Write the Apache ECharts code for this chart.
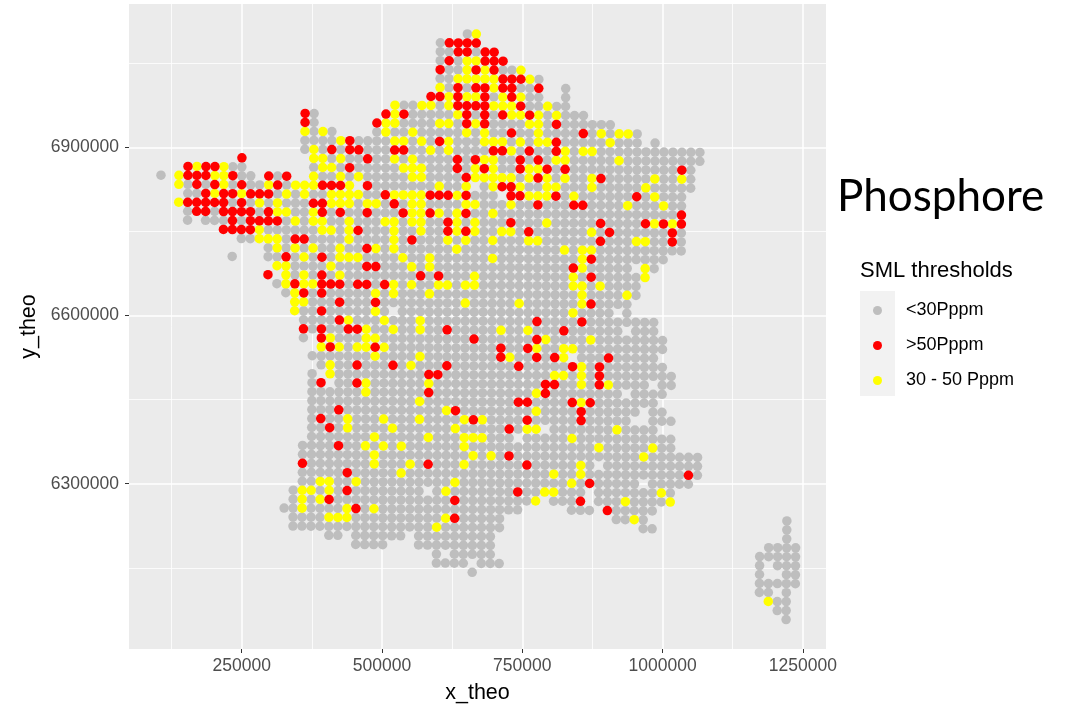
<!DOCTYPE html>
<html>
<head>
<meta charset="utf-8">
<style>
  html, body { margin: 0; padding: 0; background: #fff; }
  #chart { width: 1073px; height: 704px; }
</style>
<script src="https://cdn.jsdelivr.net/npm/echarts@6/dist/echarts.min.js"></script>
</head>
<body>
<div id="chart"></div>
<script>
// x_theo of each grid column, y_theo of each grid row (16 km sampling grid)
const colX = [106200,122200,138200,154200,170200,186200,202200,218200,234200,250200,266200,282200,
  298200,314200,330200,346200,362200,378200,394200,410200,426200,442200,458200,474200,
  490200,506200,522200,538200,554200,570200,586200,602200,618200,634200,650200,666200,
  682200,698200,714200,730200,746200,762200,778200,794200,810200,826200,842200,858200,
  874200,890200,906200,922200,938200,954200,970200,986200,1002200,1018200,1034200,1050200,
  1066200,1082200,1098200,1114200,1130200,1146200,1162200,1178200,1194200,1210200,1226200,1242200]
const rowY = [7102000,7086000,7070000,7054000,7038000,7022000,7006000,6990000,6974000,6958000,6942000,
  6926000,6910000,6894000,6878000,6862000,6846000,6830000,6814000,6798000,6782000,6766000,
  6750000,6734000,6718000,6702000,6686000,6670000,6654000,6638000,6622000,6606000,6590000,
  6574000,6558000,6542000,6526000,6510000,6494000,6478000,6462000,6446000,6430000,6414000,
  6398000,6382000,6366000,6350000,6334000,6318000,6302000,6286000,6270000,6254000,6238000,
  6222000,6206000,6190000,6174000,6158000,6142000,6126000,6110000,6094000,6078000,6062000]
// the grid is slightly turned against the axes
const gridTurn = 0.0077
const turnX = 666200
const turnY = 6850600

// occupied columns of each row
const rowSpans = ['34-35','31-35','31-37','31-38','31-40','31-42','31-42 45','30-42 45','26-45',
  '16-17 25-47','16-17 24-50','16-19 24-53','16-53 55','16-60','9 17-60','3-9 17-59',
  '0 2-10 12-14 17-59','2-21 23-34 36-59','3-37 39-58','2-58','3-58','3 5-58','7-58','9-58','12-58',
  '8 12-56','13-52 54-55','12 14-54','13-53','14-53','15-52','15-25 27-50 52','16-55','16-51 53-55',
  '16 18-56','18-56','17-45 47-55','18-56','17 19-57','17-18 20-54 56-57','17-51 53-56','17-55',
  '17-53 55-56','17-52 55-57','17-42 44-55','17-39 41-57','16-57','16-60','16-48 50-60','16-60',
  '16-53 55-59','15-29 31-47 49-57','15-42 44-47 49-57','14-40 46-48 50-55','15-38 51-54 70',
  '15-38 54-55 70','19-20 22-27 29-37 70','22-25 29-37 68-71','31 33-37 67-71','31-34 36-38 67 69-71',
  '35 67 70-71','67-71','67-68 70','68-70','69-70','70']
// columns of each row above 50 Pppm
const redCols = ['','32 33 34 35','33 34 36 37','32 36 37 38','31 35 37','38 39 40','33 35 36 38 39 42',
  '30 31 33 36 39','33 34 35 36 40','16 25 27 34 36 38 41','16 24 34 36 44','39 47','21 31 44',
  '19 21 22 26 27 37 38 41 44','9 23 33 35 40 42','3 5 6 21 33 36 40 43 45 58','3 4 5 8 12 14 34 42 49',
  '4 6 9 13 18 19 20 23 38 39','5 7 8 10 11 12 25 30 31 32 34 39 40 44 53','3 4 5 6 7 9 17 18 26 42 46 47',
  '4 5 7 8 9 10 12 18 20 23 27 30 34 58','8 10 11 12 13 32 39 49 54 56 58','7 8 9 10 22 32 34 41 50 57',
  '15 16 28 49 57','23','14 18 48','23 24 46','12 18 29 31 48','15 18 19 20 22 23 25','16 18','20 24 48','18',
  '20 42 47','16 18 21 22 32 45','18 35 42','19 24 38 41','38 42 44 50','22 26 32 40 46 49','30 31 49',
  '18 22 43 44 49','30 43','40 41 46 48','20 33 47','18 35 41 47','19 39','','20','39','16 30 41','21 59',
  '48','21 40','19 33 47','22 50','33','','','','','','','','','','','']
// columns of each row between 30 and 50 Pppm
const yellowCols = ['35','','','34 35','34 36 40','33 34 35 36 37 41','31 37','32 34 35 38 40',
  '26 29 30 32 37 38 39 43','26 33 39 40 42 44','25 26 31 32 35 41 42','16 18 25 28 34 36 42 49 51 52',
  '20 26 27 29 32 36 37 38 40 42 43 50','17 30 32 39 45 47 48','17 18 20 26 28 36 37 44 45 51',
  '4 7 18 19 27 28 29 35 37 41 42','2 6 7 17 20 22 28 29 35 36 37 38 39 41 43 45 48 55 58',
  '2 7 12 15 16 17 21 31 34 37 40 43 44 48 54','6 9 14 16 19 20 21 22 26 27 28 29 33 41 42 43 46 55',
  '2 11 13 19 20 21 23 24 28 29 34 35 39 52 56','13 14 17 28 29 31 33 37',
  '15 17 18 21 25 26 28 29 33 35 43 55 57','11 18 19 21 26 29 33 35 38 39 48',
  '11 12 13 21 26 32 34 37 41 42 53 54','13 15 17 20 24 26 33 45 47 48','16 20 21 22 27 30 37 47',
  '13 14 19 28 30 47 54','14 16 20 35 46 54','14 16 17 26 28 31 32 34 35 46 47 49','15 24 26 30 47 52',
  '15 16 34 40 47','15 24 46','21 25 29','23 26 29 38 41','19 23 24 43 48','18 20 22 23 25 42 45 46',
  '24 29 39 45','19 28 47','19 44 45 47','23 30 47 50','23 42','29 47','32 42','21 25 29 34 36',
  '21 26 33 41 42 51','24 30 34 35 36 46','23 25 27 34 49 55','24 35 37 54','24 28 34 47','27 44 47',
  '18 19 22 33 46','16 17 19 32 43 44 56','16 18 42 52 57','16 21 24','19 20 21 32 53','31','','','','','','','','68','','']

const xMajor = [250000, 500000, 750000, 1000000, 1250000]
const xMinor = [125000, 375000, 625000, 875000, 1125000]
const yMajor = [6300000, 6600000, 6900000]
const yMinor = [6150000, 6450000, 6750000, 7050000]

const seriesNames = ['<30Pppm', '>50Pppm', '30 - 50 Pppm']
const seriesColors = ['#BEBEBE', '#FF0000', '#FFFF00']

const readCols = (s) => (s ? s.split(' ').map(Number) : [])
const toPoint = (c, r) => [
  colX[c] + gridTurn * (rowY[r] - turnY),
  rowY[r] - gridTurn * (colX[c] - turnX),
]

const lowData = []
const redData = []
const yellowData = []
rowSpans.forEach((spans, r) => {
  const red = readCols(redCols[r])
  const yellow = readCols(yellowCols[r])
  spans.split(' ').forEach((span) => {
    const [from, to = from] = span.split('-').map(Number)
    for (let c = from; c <= to; c++) {
      if (red.includes(c)) redData.push(toPoint(c, r))
      else if (yellow.includes(c)) yellowData.push(toPoint(c, r))
      else lowData.push(toPoint(c, r))
    }
  })
})

const gridLine = (key, value, width) => ({ [key]: value, lineStyle: { color: '#fff', width, type: 'solid' } })
const dotSeries = (i, data, z) => ({
  name: seriesNames[i],
  type: 'scatter',
  data,
  z,
  symbol: 'circle',
  symbolSize: 9.5,
  progressive: 0,
  itemStyle: { color: seriesColors[i], opacity: 1 },
  clip: false,
})
const axisBase = {
  type: 'value',
  nameLocation: 'middle',
  nameTextStyle: { color: '#000', fontSize: 21.5, fontFamily: 'Liberation Sans' },
  splitLine: { show: false },
  axisLine: { show: false },
  axisTick: { show: true, length: 4, lineStyle: { color: '#333', width: 1 } },
}
const labelBase = { color: '#4D4D4D', fontSize: 17.5, fontFamily: 'Liberation Sans', showMinLabel: true, showMaxLabel: true }

const myChart = echarts.init(document.getElementById('chart'))
myChart.setOption({
  animation: false,
  backgroundColor: '#fff',
  title: {
    text: 'Phosphore',
    left: 832,
    top: 170,
    textStyle: { color: '#000', fontSize: 44, fontWeight: 'normal', fontFamily: 'Lato' },
  },
  grid: { left: 129, top: 4, width: 697, height: 645, show: true, backgroundColor: '#EBEBEB', borderWidth: 0, outerBoundsMode: 'none' },
  xAxis: {
    ...axisBase,
    name: 'x_theo',
    nameGap: 33,
    min: 49170,
    max: 1291220,
    axisTick: { ...axisBase.axisTick, customValues: xMajor },
    axisLabel: { ...labelBase, margin: 8, customValues: xMajor, formatter: (v) => String(v) },
  },
  yAxis: {
    ...axisBase,
    name: 'y_theo',
    nameGap: 77,
    min: 6005180,
    max: 7155590,
    axisTick: { ...axisBase.axisTick, customValues: yMajor },
    axisLabel: { ...labelBase, margin: 10, customValues: yMajor, formatter: (v) => String(v) },
  },
  legend: {
    data: seriesNames,
    orient: 'vertical',
    left: 873,
    top: 293,
    padding: 0,
    itemWidth: 35,
    itemHeight: 9,
    itemGap: 0,
    icon: 'circle',
    selectedMode: false,
    textStyle: { color: '#000', fontSize: 18, lineHeight: 35, fontFamily: 'Liberation Sans', padding: [0, 0, 0, 6] },
  },
  graphic: [
    { type: 'rect', left: 860, top: 291, z: -1, shape: { width: 35, height: 105 }, style: { fill: '#F2F2F2' } },
    { type: 'text', left: 860, top: 260, style: { text: 'SML thresholds', fill: '#000', font: '22px "Liberation Sans"' } },
  ],
  series: [
    {
      name: 'grid',
      type: 'scatter',
      data: [],
      z: 1,
      markLine: {
        silent: true,
        z: 1,
        symbol: 'none',
        label: { show: false },
        animation: false,
        data: [
          ...xMinor.map((v) => gridLine('xAxis', v, 0.8)),
          ...yMinor.map((v) => gridLine('yAxis', v, 0.8)),
          ...xMajor.map((v) => gridLine('xAxis', v, 1.5)),
          ...yMajor.map((v) => gridLine('yAxis', v, 1.5)),
        ],
      },
    },
    dotSeries(0, lowData, 3),
    dotSeries(2, yellowData, 4),
    dotSeries(1, redData, 5),
  ],
})
</script>
</body>
</html>
